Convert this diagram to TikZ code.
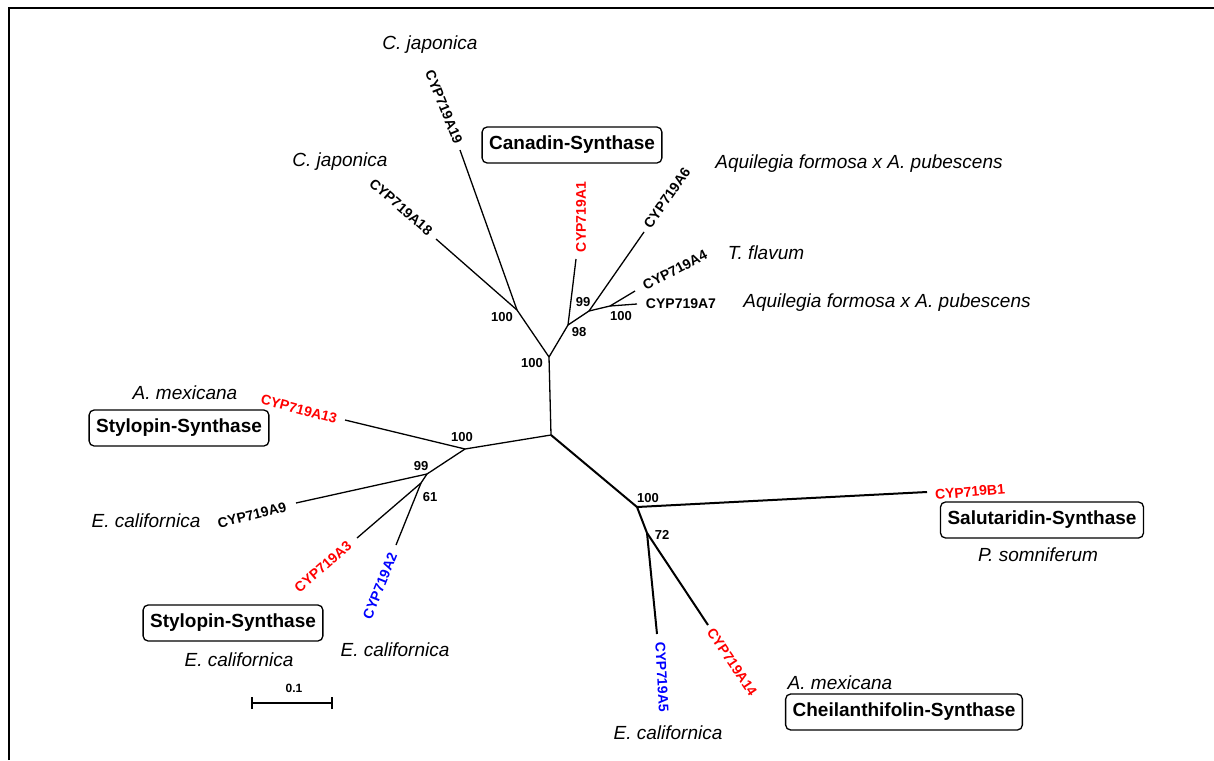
\documentclass[tikz,border=0pt]{standalone}
\usepackage{fontspec}
\setmainfont{Liberation Sans}
\begin{document}
\begin{tikzpicture}[x=1pt,y=-1pt,
  br/.style={line width=1.3pt},
  brthick/.style={line width=2pt},
  cyp/.style={font=\fontsize{14}{14}\selectfont\bfseries, inner sep=0pt},
  sp/.style={font=\fontsize{19}{19}\selectfont\itshape, inner sep=0pt},
  bs/.style={font=\fontsize{13}{13}\selectfont\bfseries, inner sep=0pt},
  enz/.style={draw, line width=1.3pt, rounded corners=5pt, font=\fontsize{19}{19}\selectfont\bfseries, inner xsep=7pt, minimum height=36pt}
]
\useasboundingbox (0,0) rectangle (1214,760);
% frame
\draw[line width=2pt] (9,760) -- (9,8) -- (1214,8);

% tree coordinates
\coordinate (root) at (551,435);
\coordinate (nU) at (549,357);
\coordinate (nJ) at (517,310);
\coordinate (tA19) at (460,150);
\coordinate (tA18) at (436,239);
\coordinate (n98) at (568,325);
\coordinate (tA1) at (576,259);
\coordinate (n99) at (589,311);
\coordinate (tA6) at (644,232);
\coordinate (n100r) at (610,306);
\coordinate (tA4) at (635,291);
\coordinate (tA7) at (637,304);
\coordinate (nL) at (465,449);
\coordinate (tA13) at (345,420);
\coordinate (n99L) at (427,474);
\coordinate (tA9) at (296,503);
\coordinate (n61) at (421,483);
\coordinate (tA3) at (357,538);
\coordinate (tA2) at (396,545);
\coordinate (nR) at (637,507);
\coordinate (tB1) at (927,492);
\coordinate (n72) at (647,533);
\coordinate (tA5) at (657,634);
\coordinate (tA14) at (708,625);

% branches
\draw[br] (root) -- (nU);
\draw[br] (nU) -- (nJ);
\draw[br] (nJ) -- (tA19);
\draw[br] (nJ) -- (tA18);
\draw[br] (nU) -- (n98);
\draw[br] (n98) -- (tA1);
\draw[br] (n98) -- (n99);
\draw[br] (n99) -- (tA6);
\draw[br] (n99) -- (n100r);
\draw[br] (n100r) -- (tA4);
\draw[br] (n100r) -- (tA7);
\draw[br] (root) -- (nL);
\draw[br] (nL) -- (tA13);
\draw[br] (nL) -- (n99L);
\draw[br] (n99L) -- (tA9);
\draw[br] (n99L) -- (n61);
\draw[br] (n61) -- (tA3);
\draw[br] (n61) -- (tA2);
\draw[brthick] (root) -- (nR);
\draw[brthick] (nR) -- (tB1);
\draw[brthick] (nR) -- (n72);
\draw[brthick] (n72) -- (tA5);
\draw[brthick] (n72) -- (tA14);

% CYP labels
\node[cyp, rotate=-68] (lA19) at (444,107) {CYP719A19};
\node[cyp, rotate=-41] (lA18) at (401,207) {CYP719A18};
\node[cyp, rotate=90, text=red] (lA1) at (581,217) {CYP719A1};
\node[cyp, rotate=55] (lA6) at (667,198) {CYP719A6};
\node[cyp, rotate=27] (lA4) at (675,270) {CYP719A4};
\node[cyp] (lA7) at (681,304) {CYP719A7};
\node[cyp, rotate=-15, text=red] (lA13) at (299,409) {CYP719A13};
\node[cyp, rotate=14] (lA9) at (252,515) {CYP719A9};
\node[cyp, rotate=41, text=red] (lA3) at (323,567) {CYP719A3};
\node[cyp, rotate=68, text=blue] (lA2) at (380,586) {CYP719A2};
\node[cyp, rotate=5, text=red] (lB1) at (970,492) {CYP719B1};
\node[cyp, rotate=-87, text=blue] (lA5) at (662,677) {CYP719A5};
\node[cyp, rotate=-56, text=red] (lA14) at (732,662) {CYP719A14};

% species
\node[sp] (s1) at (430,45) {C. japonica};
\node[sp] (s2) at (340,162) {C. japonica};
\node[sp] (s3) at (859,164) {Aquilegia formosa x A. pubescens};
\node[sp] (s4) at (766,253) {T. flavum};
\node[sp] (s5) at (887,303) {Aquilegia formosa x A. pubescens};
\node[sp] (s6) at (185,393) {A. mexicana};
\node[sp] (s7) at (146,521) {E. californica};
\node[sp] (s8) at (239,660) {E. californica};
\node[sp] (s9) at (395,650) {E. californica};
\node[sp] (s10) at (1038,555) {P. somniferum};
\node[sp] (s11) at (840,683) {A. mexicana};
\node[sp] (s12) at (668,733) {E. californica};

% bootstrap values
\node[bs] (b1) at (502,317) {100};
\node[bs] (b2) at (532,363) {100};
\node[bs] (b3) at (579,332) {98};
\node[bs] (b4) at (583,302) {99};
\node[bs] (b5) at (621,316) {100};
\node[bs] (b6) at (462,437) {100};
\node[bs] (b7) at (421,466) {99};
\node[bs] (b8) at (430,497) {61};
\node[bs] (b9) at (648,498) {100};
\node[bs] (b10) at (662,535) {72};

% enzyme boxes
\node[enz] (e1) at (572,145) {Canadin-Synthase};
\node[enz] (e2) at (179,428) {Stylopin-Synthase};
\node[enz] (e3) at (233,623) {Stylopin-Synthase};
\node[enz] (e4) at (1042,520) {Salutaridin-Synthase};
\node[enz] (e5) at (904,712) {Cheilanthifolin-Synthase};

% scale bar
\coordinate (sb1) at (252,703);
\coordinate (sb2) at (332,703);
\draw[line width=2pt] (sb1) -- (sb2);
\draw[line width=2pt] ([yshift=-6pt]sb1) -- ([yshift=6pt]sb1);
\draw[line width=2pt] ([yshift=-6pt]sb2) -- ([yshift=6pt]sb2);
\node[bs, font=\fontsize{12}{12}\selectfont\bfseries] (sbl) at (294,688) {0.1};
\end{tikzpicture}
\end{document}
